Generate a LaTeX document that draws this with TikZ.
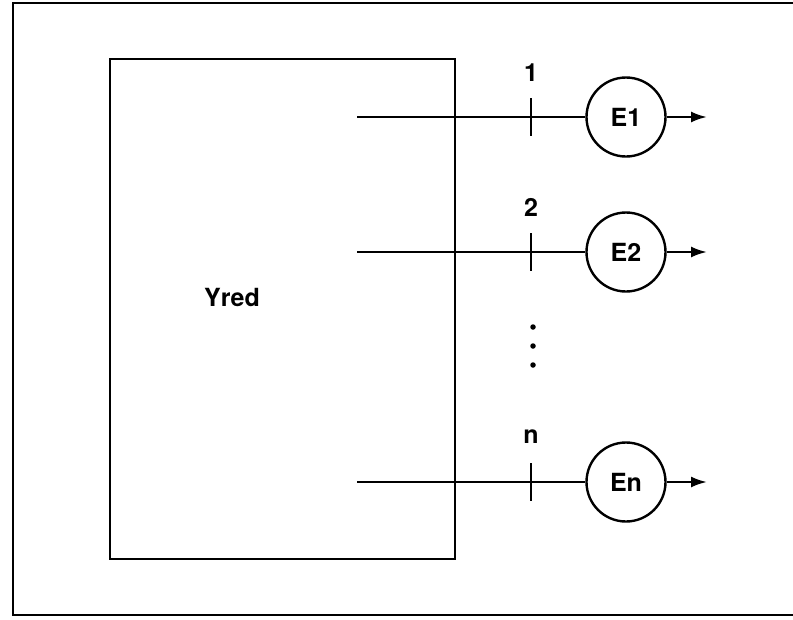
\documentclass[tikz,border=0pt]{standalone}
\usepackage{fontspec}
\setmainfont{TeX Gyre Heros}
\usetikzlibrary{arrows.meta}
\begin{document}
\begin{tikzpicture}[x=1pt,y=-1pt,
  line/.style={line width=2.4pt},
  lbl/.style={font=\fontsize{25}{29}\selectfont\bfseries, inner sep=0pt},
  circ/.style={circle, draw, line width=2.4pt, minimum size=79pt, inner sep=0pt, font=\fontsize{25}{29}\selectfont\bfseries},
  arr/.style={line width=2.4pt, -{Latex[length=16pt,width=11pt]}},
  dot/.style={circle, fill, inner sep=0pt, minimum size=5.5pt}]
\useasboundingbox (0,0) rectangle (793,619);
% outer frame (no right border)
\coordinate (f1) at (793,3);
\coordinate (f2) at (13,3);
\coordinate (f3) at (13,615);
\coordinate (f4) at (793,615);
\draw[line width=2.6pt] (f1) -- (f2) -- (f3) -- (f4);
% main box
\node[draw, line width=2.4pt, minimum width=345pt, minimum height=500pt, inner sep=0pt] (box) at (282.5,309) {};
\node[lbl] (yred) at (232,297) {Yred};
% circles
\node[circ] (E1) at (626,117) {E1};
\node[circ] (E2) at (626,252) {E2};
\node[circ] (En) at (626,482) {En};
% line starts
\coordinate (s1) at (357,117);
\coordinate (s2) at (357,252);
\coordinate (sn) at (357,482);
\draw[line] (s1) -- (E1.west);
\draw[line] (s2) -- (E2.west);
\draw[line] (sn) -- (En.west);
% ticks
\coordinate (t1a) at (531,98);  \coordinate (t1b) at (531,136);
\coordinate (t2a) at (531,233); \coordinate (t2b) at (531,271);
\coordinate (tna) at (531,463); \coordinate (tnb) at (531,501);
\draw[line] (t1a) -- (t1b);
\draw[line] (t2a) -- (t2b);
\draw[line] (tna) -- (tnb);
% tick labels
\node[lbl] (l1) at (531,73) {1};
\node[lbl] (l2) at (531,207) {2};
\node[lbl] (ln) at (531,437) {n};
% dots
\node[dot] (d1) at (533,327) {};
\node[dot] (d2) at (533,346) {};
\node[dot] (d3) at (533,365) {};
% output arrows
\coordinate (a1) at (707,117);
\coordinate (a2) at (707,252);
\coordinate (an) at (707,482);
\draw[arr] (E1.east) -- (a1);
\draw[arr] (E2.east) -- (a2);
\draw[arr] (En.east) -- (an);
\end{tikzpicture}
\end{document}
